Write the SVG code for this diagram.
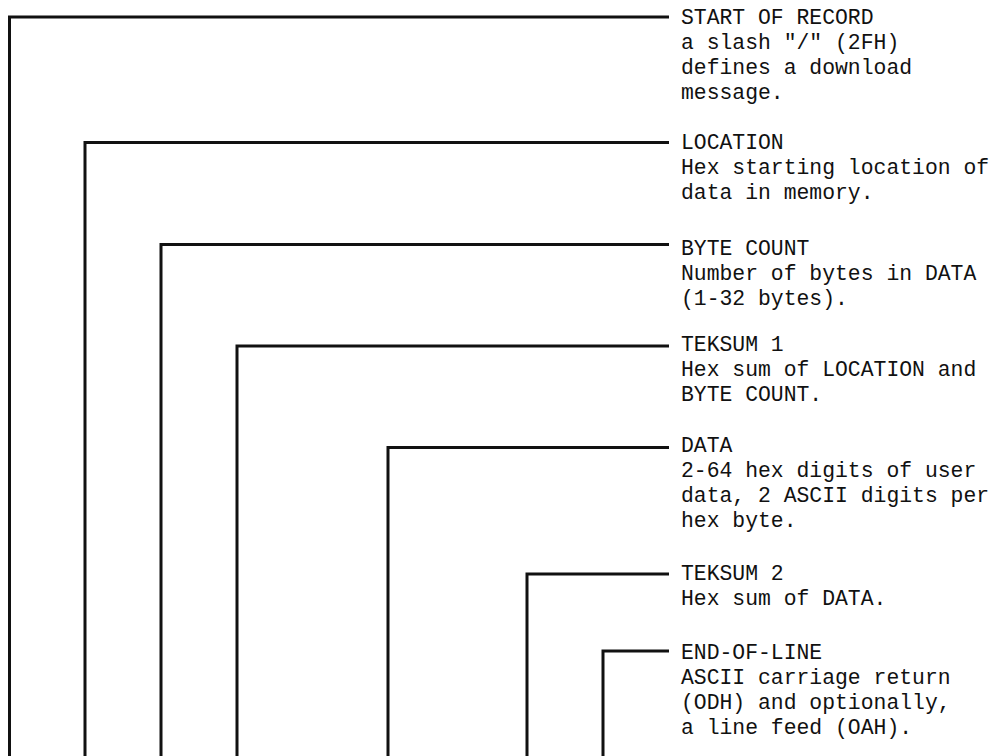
<svg xmlns="http://www.w3.org/2000/svg" width="993" height="756" viewBox="0 0 993 756">
<style>
.c{fill:none;stroke:#111;stroke-width:3;stroke-linejoin:miter;stroke-linecap:butt}
.t{font-family:"Liberation Mono","DejaVu Sans Mono",monospace;font-size:21.4px;fill:#111}
</style>
<rect width="993" height="756" fill="#fff"/>
<g id="connectors">
<path class="c" d="M9.5 756 V17 H669"/>
<path class="c" d="M85 756 V142.5 H669"/>
<path class="c" d="M161 756 V244.5 H669"/>
<path class="c" d="M237 756 V346 H669"/>
<path class="c" d="M388 756 V447.5 H669"/>
<path class="c" d="M527 756 V574 H669"/>
<path class="c" d="M603 756 V651 H669"/>
</g>
<g id="start-of-record" class="t">
<text x="681" y="23.5">START OF RECORD</text>
<text x="681" y="48.5">a slash "/" (2FH)</text>
<text x="681" y="73.5">defines a download</text>
<text x="681" y="98.5">message.</text>
</g>
<g id="location" class="t">
<text x="681" y="148.5">LOCATION</text>
<text x="681" y="173.5">Hex starting location of</text>
<text x="681" y="198.5">data in memory.</text>
</g>
<g id="byte-count" class="t">
<text x="681" y="255">BYTE COUNT</text>
<text x="681" y="280">Number of bytes in DATA</text>
<text x="681" y="305">(1-32 bytes).</text>
</g>
<g id="teksum-1" class="t">
<text x="681" y="350.5">TEKSUM 1</text>
<text x="681" y="375.5">Hex sum of LOCATION and</text>
<text x="681" y="401">BYTE COUNT.</text>
</g>
<g id="data" class="t">
<text x="681" y="452">DATA</text>
<text x="681" y="477">2-64 hex digits of user</text>
<text x="681" y="502">data, 2 ASCII digits per</text>
<text x="681" y="527">hex byte.</text>
</g>
<g id="teksum-2" class="t">
<text x="681" y="580">TEKSUM 2</text>
<text x="681" y="605">Hex sum of DATA.</text>
</g>
<g id="end-of-line" class="t">
<text x="681" y="658.5">END-OF-LINE</text>
<text x="681" y="683.5">ASCII carriage return</text>
<text x="681" y="708.5">(ODH) and optionally,</text>
<text x="681" y="733.5">a line feed (OAH).</text>
</g>
</svg>
